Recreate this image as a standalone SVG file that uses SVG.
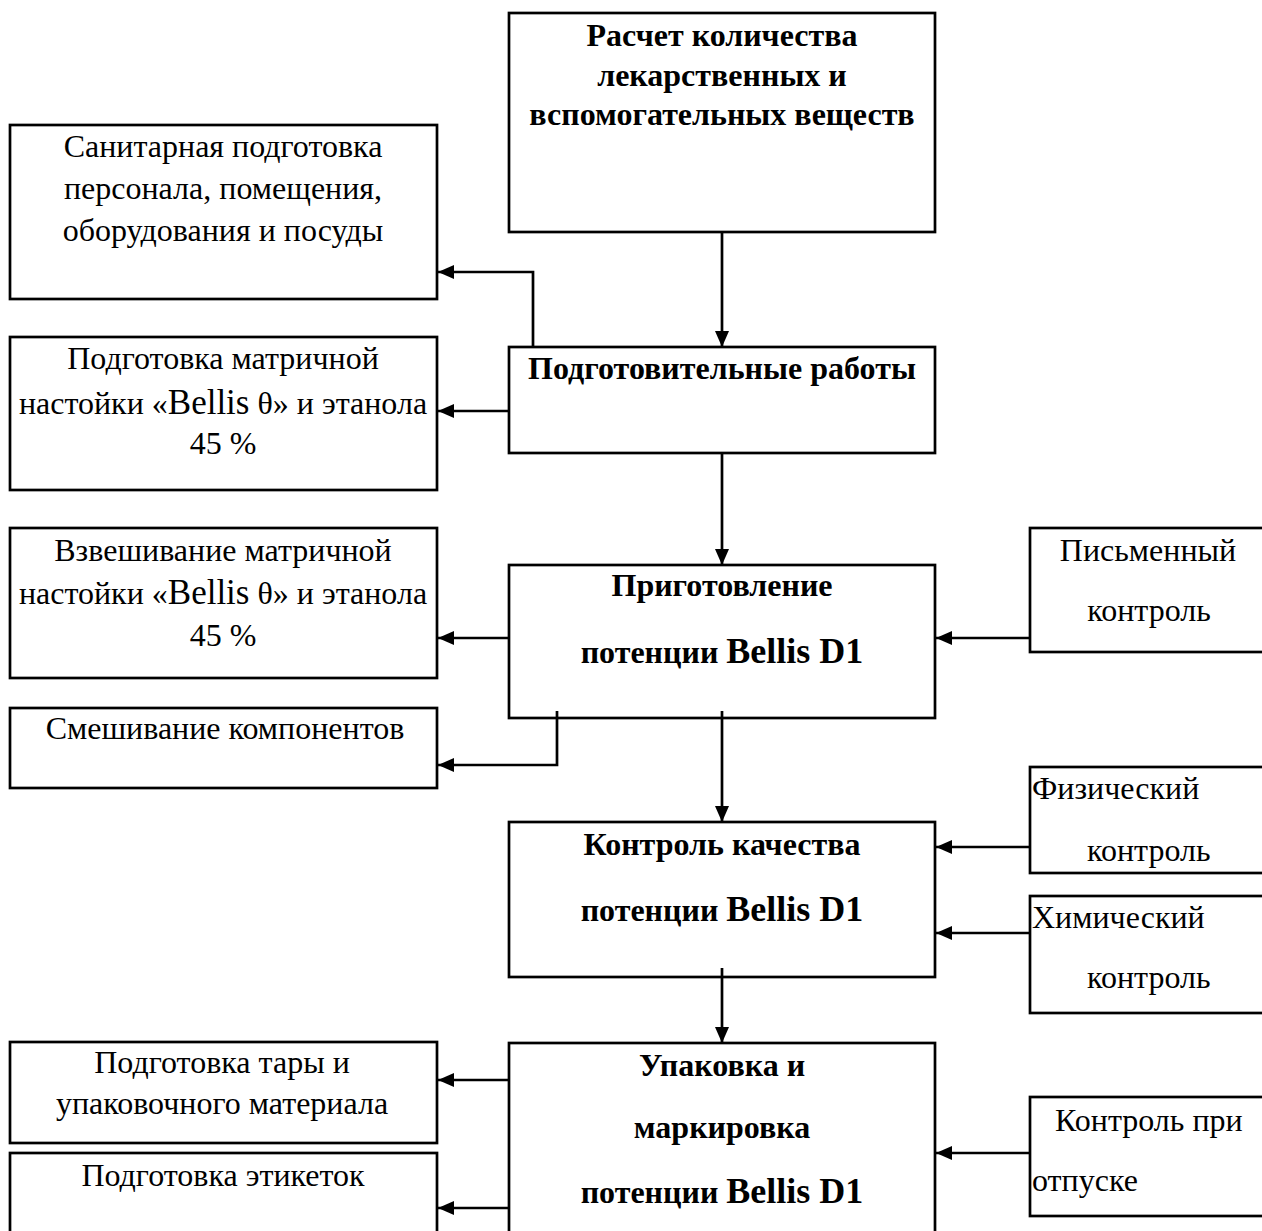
<svg xmlns="http://www.w3.org/2000/svg" width="1262" height="1231" viewBox="0 0 1262 1231">
<defs>
<marker id="arr" markerUnits="userSpaceOnUse" markerWidth="16" markerHeight="14" refX="16" refY="7" orient="auto">
<path d="M0,0 L16,7 L0,14 z" fill="#000"/>
</marker>
<style>
.box{fill:#fff;stroke:#000;stroke-width:2.7}
.ln{fill:none;stroke:#000;stroke-width:2.7}
.r{font-family:"Liberation Serif","Times New Roman",serif;font-size:32px;fill:#000}
.b{font-family:"Liberation Serif","Times New Roman",serif;font-size:32px;font-weight:bold;fill:#000}
.c{text-anchor:middle}
.big{font-size:36px}
.bigr{font-size:35px}
</style>
</defs>
<rect width="1262" height="1231" fill="#fff"/>

<g id="n-raschet">
<rect class="box" x="509" y="13" width="426" height="219"/>
<text class="b c" x="722" y="46">Расчет количества</text>
<text class="b c" x="722" y="86">лекарственных и</text>
<text class="b c" x="722" y="125">вспомогательных веществ</text>
</g>

<g id="n-sanitar">
<rect class="box" x="10" y="125" width="427" height="174"/>
<text class="r c" x="223" y="157">Санитарная подготовка</text>
<text class="r c" x="223" y="199">персонала, помещения,</text>
<text class="r c" x="223" y="241">оборудования и посуды</text>
</g>

<g id="n-podgot">
<rect class="box" x="509" y="347" width="426" height="106"/>
<text class="b c" x="722" y="379">Подготовительные работы</text>
</g>

<g id="n-matrix">
<rect class="box" x="10" y="337" width="427" height="153"/>
<text class="r c" x="223" y="369">Подготовка матричной</text>
<text class="r c" x="223" y="414">настойки «<tspan class="bigr">Bellis</tspan> θ» и этанола</text>
<text class="r c" x="223" y="454">45 %</text>
</g>

<g id="n-vzvesh">
<rect class="box" x="10" y="528" width="427" height="150"/>
<text class="r c" x="223" y="561">Взвешивание матричной</text>
<text class="r c" x="223" y="604">настойки «<tspan class="bigr">Bellis</tspan> θ» и этанола</text>
<text class="r c" x="223" y="646">45 %</text>
</g>

<g id="n-prigot">
<rect class="box" x="509" y="565" width="426" height="153"/>
<text class="b c" x="722" y="596">Приготовление</text>
<text class="b c" x="722" y="663">потенции <tspan class="big">Bellis D1</tspan></text>
</g>

<g id="n-pismen">
<rect class="box" x="1030" y="528" width="240" height="124"/>
<text class="r c" x="1148" y="561">Письменный</text>
<text class="r c" x="1149" y="621">контроль</text>
</g>

<g id="n-smesh">
<rect class="box" x="10" y="708" width="427" height="80"/>
<text class="r c" x="225" y="739">Смешивание компонентов</text>
</g>

<g id="n-kontrol">
<rect class="box" x="509" y="822" width="426" height="155"/>
<text class="b c" x="722" y="855">Контроль качества</text>
<text class="b c" x="722" y="921">потенции <tspan class="big">Bellis D1</tspan></text>
</g>

<g id="n-fiz">
<rect class="box" x="1030" y="767" width="240" height="106"/>
<text class="r" x="1032" y="799">Физический</text>
<text class="r" x="1087" y="861">контроль</text>
</g>

<g id="n-him">
<rect class="box" x="1030" y="896" width="240" height="117"/>
<text class="r" x="1032" y="928">Химический</text>
<text class="r" x="1087" y="988">контроль</text>
</g>

<g id="n-upak">
<rect class="box" x="509" y="1043" width="426" height="200"/>
<text class="b c" x="722" y="1076">Упаковка и</text>
<text class="b c" x="722" y="1138">маркировка</text>
<text class="b c" x="722" y="1203">потенции <tspan class="big">Bellis D1</tspan></text>
</g>

<g id="n-tara">
<rect class="box" x="10" y="1042" width="427" height="101"/>
<text class="r c" x="222" y="1073">Подготовка тары и</text>
<text class="r c" x="222" y="1114">упаковочного материала</text>
</g>

<g id="n-etiket">
<rect class="box" x="10" y="1153" width="427" height="90"/>
<text class="r c" x="223" y="1186">Подготовка этикеток</text>
</g>

<g id="n-otpusk">
<rect class="box" x="1030" y="1097" width="240" height="119"/>
<text class="r" x="1055" y="1131">Контроль при</text>
<text class="r" x="1032" y="1191">отпуске</text>
</g>

<g id="connectors">
<path class="ln" d="M722,233 V347" marker-end="url(#arr)"/>
<path class="ln" d="M533,346 V272 H438" marker-end="url(#arr)"/>
<path class="ln" d="M508,411 H438" marker-end="url(#arr)"/>
<path class="ln" d="M722,454 V565" marker-end="url(#arr)"/>
<path class="ln" d="M508,638 H438" marker-end="url(#arr)"/>
<path class="ln" d="M557,711 V765 H438" marker-end="url(#arr)"/>
<path class="ln" d="M722,711 V822" marker-end="url(#arr)"/>
<path class="ln" d="M1029,638 H936" marker-end="url(#arr)"/>
<path class="ln" d="M1029,847 H936" marker-end="url(#arr)"/>
<path class="ln" d="M1029,933 H936" marker-end="url(#arr)"/>
<path class="ln" d="M722,968 V1043" marker-end="url(#arr)"/>
<path class="ln" d="M508,1080 H438" marker-end="url(#arr)"/>
<path class="ln" d="M508,1208 H438" marker-end="url(#arr)"/>
<path class="ln" d="M1029,1153 H936" marker-end="url(#arr)"/>
</g>
</svg>
